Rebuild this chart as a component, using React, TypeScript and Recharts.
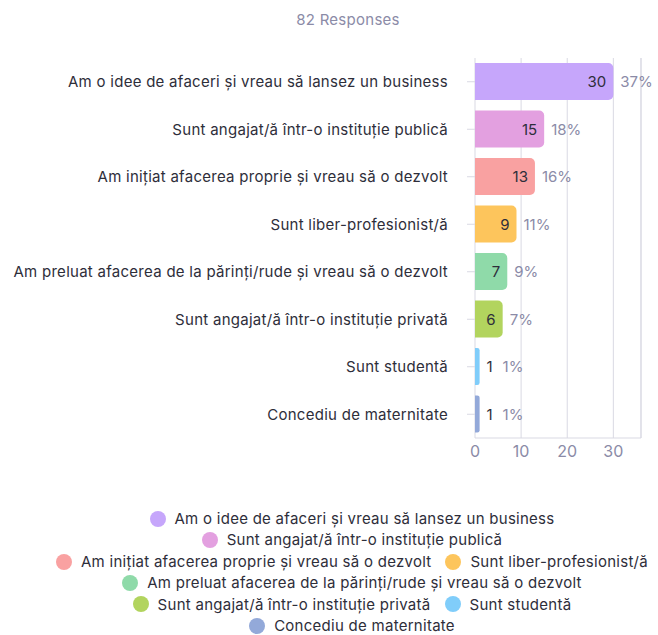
import React from 'react';
import { BarChart, Bar, XAxis, YAxis, CartesianGrid, Cell, LabelList, ReferenceLine } from 'recharts';

const title = '82 Responses';
const categories = [
  'Am o idee de afaceri și vreau să lansez un business',
  'Sunt angajat/ă într-o instituție publică',
  'Am inițiat afacerea proprie și vreau să o dezvolt',
  'Sunt liber-profesionist/ă',
  'Am preluat afacerea de la părinți/rude și vreau să o dezvolt',
  'Sunt angajat/ă într-o instituție privată',
  'Sunt studentă',
  'Concediu de maternitate',
];
const counts = [30, 15, 13, 9, 7, 6, 1, 1];
const percents = ['37%', '18%', '16%', '11%', '9%', '7%', '1%', '1%'];
const colors = ['#c6a6fb', '#e3a0e0', '#f9a1a1', '#fdc55c', '#8fdaa9', '#b2d45e', '#80cdfa', '#93a9d9'];
const xTicks = [0, 10, 20, 30];
const xMax = 36;

const data = categories.map((name, i) => ({ name, value: counts[i], pct: percents[i] }));

const FONT = 'Inter, "Noto Sans", sans-serif';
const GRAY = '#8b8ba7';
const DARK = '#2e2e3a';
const GRID = '#d9d9e3';
const LS = 0.27;

const renderLabel = (props: any) => {
  const { x, y, width, height, index } = props;
  const end = Number(x) + Number(width);
  const cy = Number(y) + Number(height) / 2;
  const inside = Number(width) > 20;
  const d = data[index];
  if (!d) return null;
  return (
    <g>
      {inside ? (
        <text x={end - 7} y={cy} textAnchor="end" dominantBaseline="central" fill={DARK} fontSize={15} fontFamily={FONT}>{d.value}</text>
      ) : (
        <text x={end + 7} y={cy} textAnchor="start" dominantBaseline="central" fill={DARK} fontSize={15} fontFamily={FONT}>{d.value}</text>
      )}
      <text x={inside ? end + 7 : end + 23} y={cy} textAnchor="start" dominantBaseline="central" fill={GRAY} fontSize={15} fontFamily={FONT}>{d.pct}</text>
    </g>
  );
};

export default function App() {
  return (
    <div style={{ position: 'absolute', left: 0, top: 0, width: 658, height: 635, background: '#fff', fontFamily: FONT, overflow: 'hidden' }}>
      <div style={{ position: 'absolute', left: 248, top: 10, width: 200, textAlign: 'center', fontSize: 15, color: GRAY, letterSpacing: LS }}>{title}</div>
      <div style={{ position: 'absolute', left: 0, top: 0 }}>
        <BarChart width={658} height={480} data={data} layout="vertical" margin={{ top: 58, right: 17, left: 0, bottom: 12 }}>
          <CartesianGrid horizontal={false} stroke={GRID} />
          <XAxis type="number" domain={[0, xMax]} ticks={xTicks} tickLine={false} axisLine={{ stroke: GRID }}
            tick={{ fill: GRAY, fontSize: 16, fontFamily: FONT }} />
          <YAxis type="category" dataKey="name" width={475} tickSize={8} tickMargin={19} axisLine={false}
            tickLine={{ stroke: GRID }} tick={{ fill: DARK, fontSize: 15, fontFamily: FONT, letterSpacing: LS }} interval={0} />
          <ReferenceLine x={xMax} stroke={GRID} />
          <Bar dataKey="value" barSize={37} radius={[0, 5, 5, 0]} isAnimationActive={false}>
            {data.map((d, i) => <Cell key={i} fill={colors[i]} />)}
            <LabelList dataKey="value" content={renderLabel} />
          </Bar>
        </BarChart>
      </div>
      <div style={{ position: 'absolute', left: 27, top: 508, width: 650, display: 'flex', flexWrap: 'wrap', justifyContent: 'center', fontSize: 15, letterSpacing: LS, color: DARK, lineHeight: '21.4px' }}>
        {categories.map((c, i) => (
          <div key={i} style={{ display: 'flex', alignItems: 'center', margin: '0 7px', whiteSpace: 'nowrap' }}>
            <span style={{ width: 16, height: 16, borderRadius: 8, background: colors[i], display: 'inline-block', marginRight: 9 }} />
            <span>{c}</span>
          </div>
        ))}
      </div>
    </div>
  );
}
